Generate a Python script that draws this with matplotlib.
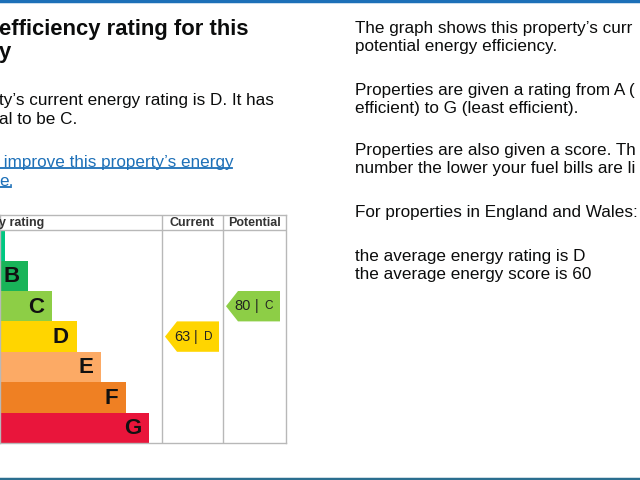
import matplotlib
matplotlib.use('Agg')
import matplotlib.pyplot as plt
from matplotlib.patches import Polygon
from matplotlib.lines import Line2D

plt.rcParams['font.family'] = ['Liberation Sans', 'DejaVu Sans']

# chart data
bands = ['A', 'B', 'C', 'D', 'E', 'F', 'G']
band_colors = ['#00c781', '#19b459', '#8dce46', '#ffd500', '#fcaa65', '#ef8023', '#e9153b']
band_lengths = [5, 28, 52, 77, 101, 126, 149]
band_floor = [92, 81, 69, 55, 39, 21, 1]
current_score = 63
potential_score = 80

# page text, as far as the screenshot shows it
title_lines = ['efficiency rating for this', 'y']
intro_lines = ["ty\u2019s current energy rating is D. It has", 'al to be C.']
link_lines = [' improve this property\u2019s energy', 'e.']
side_lines = [
    'The graph shows this property\u2019s curr',
    'potential energy efficiency.',
    'Properties are given a rating from A (',
    'efficient) to G (least efficient).',
    'Properties are also given a score. Th',
    'number the lower your fuel bills are li',
    'For properties in England and Wales:',
    'the average energy rating is D',
    'the average energy score is 60',
]
side_y = [29, 47, 90, 108, 150, 168, 213, 256, 274]


def band_of(score):
    for i, low in enumerate(band_floor):
        if score >= low:
            return i
    return len(bands) - 1


def draw_arrow(ax, x0, x1, score):
    row = band_of(score)
    tip = 12
    pts = [(x0, row), (x0 + tip, row - 0.5), (x1, row - 0.5), (x1, row + 0.5), (x0 + tip, row + 0.5)]
    ax.add_patch(Polygon(pts, closed=True, facecolor=band_colors[row], edgecolor='none'))
    ax.text(x0 + 17, row, str(score), fontsize=10.5, color='#222222', ha='center', va='center')
    ax.text(x0 + 31, row, '|', fontsize=10.5, color='#222222', ha='center', va='center')
    ax.text(x0 + 43, row, bands[row], fontsize=8.5, color='#222222', ha='center', va='center')


fig = plt.figure(figsize=(6.4, 4.8), dpi=100)

bg = fig.add_axes([0, 0, 1, 1])
bg.set_xlim(0, 640)
bg.set_ylim(480, 0)
bg.axis('off')

# blue rules at top and bottom of the page
bg.axhline(1, color='#1d70b8', lw=2.5)
bg.axhline(479, color='#2b6e8f', lw=2.5)

txt = '#0b0c0c'
bg.text(-1, 30, title_lines[0], fontsize=15.8, fontweight='bold', color=txt, va='center')
bg.text(-1, 52.5, title_lines[1], fontsize=15.8, fontweight='bold', color=txt, va='center')
bg.text(-1, 100, intro_lines[0], fontsize=12.3, color=txt, va='center')
bg.text(-1, 120, intro_lines[1], fontsize=12.3, color=txt, va='center')
links = []
links.append(bg.text(-1, 162, link_lines[0], fontsize=12.3, color='#1d70b8', va='center'))
links.append(bg.text(-1, 181, link_lines[1], fontsize=12.3, color='#1d70b8', va='center'))
for s, y in zip(side_lines, side_y):
    bg.text(355, y, s, fontsize=12.3, color=txt, va='center')

# rating chart
ax = fig.add_axes([0, (480 - 443) / 480, 286 / 640, (443 - 215) / 480])
ax.set_xlim(0, 286)
ax.set_ylim(6.5, -1.0)
ax.barh(range(len(bands)), band_lengths, height=1.0, color=band_colors, align='center')
for i, (b, w) in enumerate(zip(bands, band_lengths)):
    if i > 0:
        ax.text(w - 8, i + 0.03, b, fontsize=16, fontweight='bold', color='#111111',
                ha='right', va='center')
for s in ax.spines.values():
    s.set_color('#b8b8b8')
    s.set_linewidth(1)
ax.axhline(-0.5, color='#b8b8b8', lw=1)
ax.axvline(162, color='#b8b8b8', lw=1)
ax.axvline(223, color='#b8b8b8', lw=1)
ax.set_xticks([])
ax.set_yticks([])
ax.text(-1, -0.75, 'y rating', fontsize=9, fontweight='bold', color='#333333', va='center')
ax.text(192.5, -0.75, 'Current', fontsize=9, fontweight='bold', color='#333333',
        ha='center', va='center')
ax.text(254.5, -0.75, 'Potential', fontsize=9, fontweight='bold', color='#333333',
        ha='center', va='center')

draw_arrow(ax, 165, 219, current_score)
draw_arrow(ax, 226, 280, potential_score)

# underline the link text
fig.canvas.draw()
r = fig.canvas.get_renderer()
for t in links:
    bb = t.get_window_extent(r)
    y = bb.y0 + 1.5
    fig.add_artist(Line2D([max(bb.x0, 0), bb.x1 - 2], [y, y], transform=None,
                          color='#1d70b8', lw=1.3))

fig.savefig('out.png', dpi=100)
